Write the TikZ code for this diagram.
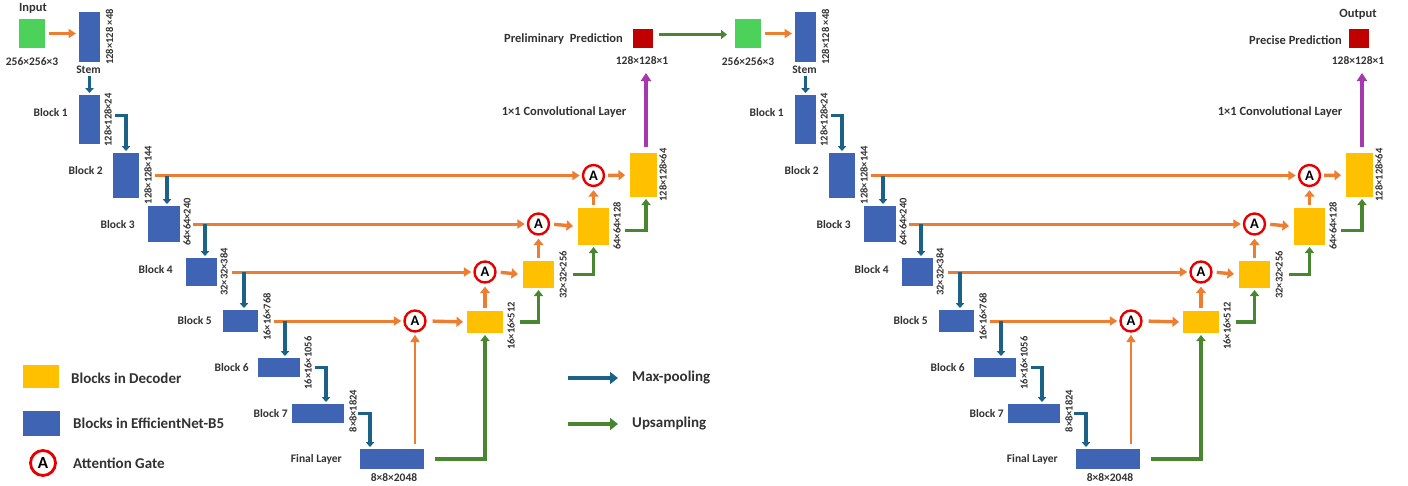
\documentclass[tikz,border=0pt]{standalone}
\usepackage{fontspec}
\setmainfont{Carlito}
\usetikzlibrary{arrows.meta,calc}
\definecolor{encb}{RGB}{64,100,180}
\definecolor{decy}{RGB}{255,192,0}
\definecolor{ingr}{RGB}{76,210,90}
\definecolor{outr}{RGB}{192,0,0}
\definecolor{orng}{RGB}{237,125,49}
\definecolor{mpbl}{RGB}{28,98,135}
\definecolor{upgr}{RGB}{72,135,48}
\definecolor{purp}{RGB}{165,55,175}
\definecolor{attr}{RGB}{230,0,0}
\definecolor{txtc}{RGB}{50,50,50}
\tikzset{
 box/.style={draw=none, inner sep=0pt, outer sep=0pt},
 enc/.style={box, fill=encb},
 dec/.style={box, fill=decy},
 lbl/.style={font=\bfseries\fontsize{11.5}{12}\selectfont, text=txtc, inner sep=0pt},
 lblbig/.style={font=\bfseries\fontsize{12.5}{13}\selectfont, text=txtc, inner sep=0pt},
 dimlbl/.style={font=\bfseries\fontsize{10.5}{11}\selectfont, text=txtc, inner sep=0pt, rotate=90},
 leg/.style={font=\bfseries\fontsize{15}{16}\selectfont, text=txtc, inner sep=0pt, anchor=west},
 gate/.style={circle, draw=attr, fill=white, line width=2.4pt, minimum size=21pt, inner sep=0pt, font=\bfseries\fontsize{14.5}{14}\selectfont, text=black},
 skip/.style={draw=orng, line width=3pt, -{Triangle[length=7.5pt,width=9pt]}},
 ora/.style={draw=orng, line width=3.4pt, -{Triangle[length=6.5pt,width=10pt]}},
 maxp/.style={draw=mpbl, line width=3.2pt, -{Triangle[length=5pt,width=8.5pt]}},
 ups/.style={draw=upgr, line width=3.2pt, -{Triangle[length=6pt,width=9pt]}},
 conv/.style={draw=purp, line width=4.2pt, -{Triangle[length=8pt,width=10pt]}},
 legarrow/.style={line width=4.5pt, -{Triangle[length=8pt,width=12pt]}},
}
\newcommand\myunet[1]{%
 % input, encoder
 \node[box, fill=ingr, minimum width=26pt, minimum height=29pt] (#1in) at (32,33.5) {};
 \node[enc, minimum width=21pt, minimum height=50pt] (#1stem) at (89.5,37) {};
 \node[enc, minimum width=21pt, minimum height=49pt] (#1b1) at (89.5,119.5) {};
 \node[enc, minimum width=26pt, minimum height=45pt] (#1b2) at (126,175.5) {};
 \node[enc, minimum width=32pt, minimum height=36pt] (#1b3) at (164,224) {};
 \node[enc, minimum width=31pt, minimum height=28pt] (#1b4) at (201.5,272) {};
 \node[enc, minimum width=35pt, minimum height=22pt] (#1b5) at (240.5,321) {};
 \node[enc, minimum width=42pt, minimum height=19pt] (#1b6) at (279,367.5) {};
 \node[enc, minimum width=52pt, minimum height=19pt] (#1b7) at (318,413.5) {};
 \node[enc, minimum width=64pt, minimum height=20pt] (#1fin) at (392,459) {};
 % decoder
 \node[dec, minimum width=36pt, minimum height=22pt] (#1D1) at (485,322) {};
 \node[dec, minimum width=31pt, minimum height=27pt] (#1D2) at (538.5,274.5) {};
 \node[dec, minimum width=31pt, minimum height=37pt] (#1D3) at (593.5,226.5) {};
 \node[dec, minimum width=27pt, minimum height=44pt] (#1D4) at (643.5,175) {};
 \node[box, fill=outr, minimum width=20pt, minimum height=19pt] (#1out) at (643,38.5) {};
 % gates
 \node[gate] (#1a5) at (415,321) {A};
 \node[gate] (#1a4) at (485,272) {A};
 \node[gate] (#1a3) at (538.5,224) {A};
 \node[gate] (#1a2) at (593.5,175.5) {A};
 % labels
 \node[lbl] (#1tin) at (32,62) {256×256×3};
 \node[dimlbl] (#1tstem) at (109.5,37) {128×128 ×48};
 \node[lbl] (#1nstem) at (88.5,70) {Stem};
 \node[lbl, anchor=east] (#1nb1) at (68,113) {Block 1};
 \node[dimlbl] (#1tb1) at (108,120) {128×128×24};
 \node[lbl, anchor=east] (#1nb2) at (103,171) {Block 2};
 \node[dimlbl] (#1tb2) at (148,175) {128×128×144};
 \node[lbl, anchor=east] (#1nb3) at (135,225) {Block 3};
 \node[dimlbl] (#1tb3) at (187,222) {64×64×240};
 \node[lbl, anchor=east] (#1nb4) at (173,270) {Block 4};
 \node[dimlbl] (#1tb4) at (224,272) {32×32×384};
 \node[lbl, anchor=east] (#1nb5) at (212,321) {Block 5};
 \node[dimlbl] (#1tb5) at (267,317) {16×16×768};
 \node[lbl, anchor=east] (#1nb6) at (249,368) {Block 6};
 \node[dimlbl] (#1tb6) at (308,363) {16×16×1056};
 \node[lbl, anchor=east] (#1nb7) at (288,414) {Block 7};
 \node[dimlbl] (#1tb7) at (353,411) {8×8×1824};
 \node[lbl, anchor=east] (#1nfin) at (342,459) {Final Layer};
 \node[lbl] (#1tfin) at (394,478) {8×8×2048};
 \node[dimlbl] (#1tD1) at (511,326) {16×16×512};
 \node[dimlbl] (#1tD2) at (563,275) {32×32×256};
 \node[dimlbl] (#1tD3) at (617,226) {64×64×128};
 \node[dimlbl] (#1tD4) at (663,175) {128×128×64};
 \node[lblbig] (#1tconv) at (564,112) {1×1 Convolutional Layer};
 \node[lbl] (#1tout) at (642,61) {128×128×1};
 % encoder connectors
 \draw[skip, shorten <=4pt, shorten >=3pt] (#1in.east) -- (#1in.east -| #1stem.west);
 \draw[maxp, shorten <=14pt, shorten >=2pt] (#1stem.south) -- (#1b1.north);
 \draw[maxp, shorten >=2pt] (#1b1.east) ++(15,-4) -| (#1b2.north);
 \draw[skip, shorten <=16pt, shorten >=2pt] (#1b2.east) -- (#1a2.west);
 \draw[maxp, shorten >=2pt] (#1b2.east) ++(28,0) coordinate (#1p2) -- (#1p2 |- #1b3.north);
 \draw[skip, shorten <=13pt, shorten >=2pt] (#1b3.east) -- (#1a3.west);
 \draw[maxp, shorten >=2pt] (#1b3.east) ++(25,0) coordinate (#1p3) -- (#1p3 |- #1b4.north);
 \draw[skip, shorten <=15pt, shorten >=2pt] (#1b4.east) -- (#1a4.west);
 \draw[maxp, shorten >=2pt] (#1b4.east) ++(27,0) coordinate (#1p4) -- (#1p4 |- #1b5.north);
 \draw[skip, shorten <=16pt, shorten >=2pt] (#1b5.east) -- (#1a5.west);
 \draw[maxp, shorten >=2pt] (#1b5.east) ++(27,0) coordinate (#1p5) -- (#1p5 |- #1b6.north);
 \draw[maxp, shorten >=2pt] (#1b6.east) ++(15,0) -| ($(#1b7.north)+(8,0)$);
 \draw[maxp, shorten >=2pt] (#1b7.east) ++(14,0) -| ($(#1fin.north)+(-22,0)$);
 % decoder connectors
 \draw[skip, line width=2.6pt, shorten <=5pt, shorten >=2pt] (#1a5.center |- #1fin.north) -- (#1a5.south);
 \draw[ups, shorten >=2pt] (#1fin.east) ++(11,0) -| (#1D1.south);
 \draw[ora, shorten <=6pt, shorten >=4pt] (#1a5.east) -- (#1D1.west);
 \draw[ora, shorten <=3pt, shorten >=3pt] (#1D1.north) -- (#1a4.south);
 \draw[ora, shorten <=4pt, shorten >=5pt] (#1a4.east) -- (#1D2.west);
 \draw[ups, shorten >=2pt] (#1D1.east) ++(17,0) -| (#1D2.south);
 \draw[ora, shorten <=3pt, shorten >=3pt] (#1D2.north) -- (#1a3.south);
 \draw[ora, shorten <=4pt, shorten >=5pt] (#1a3.east) -- (#1D3.west);
 \draw[ups, shorten >=2pt] (#1D2.east) ++(19,0) -| (#1D3.south);
 \draw[ora, shorten <=3pt, shorten >=3pt] (#1D3.north) -- (#1a2.south);
 \draw[ora, shorten <=3pt, shorten >=5pt] (#1a2.east) -- (#1D4.west);
 \draw[ups, shorten >=2pt] (#1D3.east) ++(16,4) -| ($(#1D4.south)+(2.5,0)$);
 \draw[conv, shorten <=6pt, shorten >=25pt] ($(#1D4.north)+(2.5,0)$) -- ($(#1out.south)+(3,0)$);
}
\begin{document}
\begin{tikzpicture}[x=1pt,y=-1pt]
\useasboundingbox[fill=white] (0,0) rectangle (1408,485);
\myunet{L}
\begin{scope}[xshift=716pt]
\myunet{R}
\node[lblbig] (Rtitle) at (642,14) {Output};
\node[lblbig, anchor=east] (Rpred) at (626,40) {Precise Prediction};
\end{scope}
\node[lblbig] (Ltitle) at (33,8) {Input};
\node[lblbig, anchor=east] (Lpred) at (623,39) {Preliminary\ \ Prediction};
\draw[ups, shorten <=6pt, shorten >=8pt] ($(Lout.east)+(0,-4)$) -- ($(Lout.east -| Rin.west)+(0,-4)$);
% legend
\node[dec, minimum width=36pt, minimum height=23pt] (legdec) at (41,376.5) {};
\node[leg] (legdect) at (71,378) {Blocks in Decoder};
\node[enc, minimum width=37pt, minimum height=25pt] (legenc) at (41.5,423.5) {};
\node[leg] (legenct) at (73,423) {Blocks in EfficientNet-B5};
\node[gate, minimum size=25pt, line width=2.8pt, font=\bfseries\fontsize{17}{17}\selectfont] (legatt) at (43,463) {A};
\node[leg] (legattt) at (73,463) {Attention Gate};
\coordinate (mpa) at (568,378);
\coordinate (mpb) at (618,378);
\draw[legarrow, draw=mpbl] (mpa) -- (mpb);
\node[leg] (legmp) at (632,378) {Max-pooling};
\coordinate (upa) at (568,424);
\coordinate (upb) at (618,424);
\draw[legarrow, draw=upgr] (upa) -- (upb);
\node[leg] (legup) at (632,424) {Upsampling};
\end{tikzpicture}
\end{document}
